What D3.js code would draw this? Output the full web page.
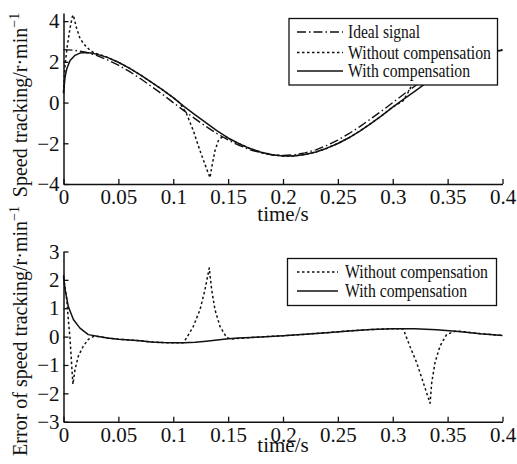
<!DOCTYPE html>
<html>
<head>
<meta charset="utf-8">
<script src="https://cdn.jsdelivr.net/npm/d3@7"></script>
<style>
  html, body { margin: 0; padding: 0; background: #fff; }
  svg { display: block; }
  text { font-family: "Liberation Serif", "Times New Roman", serif; fill: #111; }
</style>
</head>
<body>
<div id="chart"></div>
<script>
// ---------------- data ----------------
const xTicks = [0, 0.05, 0.1, 0.15, 0.2, 0.25, 0.3, 0.35, 0.4];
const xTickLabels = ["0", "0.05", "0.1", "0.15", "0.2", "0.25", "0.3", "0.35", "0.4"];
const topYTicks = [-4, -2, 0, 2, 4];
const topYTickLabels = ["\u22124", "\u22122", "0", "2", "4"];
const botYTicks = [-3, -2, -1, 0, 1, 2, 3];
const botYTickLabels = ["\u22123", "\u22122", "\u22121", "0", "1", "2", "3"];

const topLegend = ["Ideal signal", "Without compensation", "With compensation"];
const botLegend = ["Without compensation", "With compensation"];

// speed tracking, [time s, r/min]
const idealSpeed = [
  [0,2.60],[0.01,2.57],[0.02,2.47],[0.03,2.32],[0.04,2.10],[0.05,1.84],[0.06,1.53],[0.07,1.18],
  [0.08,0.80],[0.09,0.41],[0.10,0.00],[0.11,-0.41],[0.12,-0.80],[0.13,-1.18],[0.14,-1.53],[0.15,-1.84],
  [0.16,-2.10],[0.17,-2.32],[0.18,-2.47],[0.19,-2.57],[0.20,-2.60],[0.21,-2.57],[0.22,-2.47],[0.23,-2.32],
  [0.24,-2.10],[0.25,-1.84],[0.26,-1.53],[0.27,-1.18],[0.28,-0.80],[0.29,-0.41],[0.30,0.00],[0.31,0.41],
  [0.32,0.80],[0.33,1.18],[0.34,1.53],[0.35,1.84],[0.36,2.10],[0.37,2.32],[0.38,2.47],[0.39,2.57],[0.40,2.60]
];
const speedWithComp = [
  [0,0.45],[0.0014,1.25],[0.003,1.66],[0.006,2.07],[0.0105,2.32],[0.015,2.43],[0.02,2.46],[0.025,2.44],
  [0.03,2.38],[0.04,2.22],[0.05,1.98],[0.06,1.69],[0.07,1.36],[0.08,1.00],[0.09,0.64],[0.10,0.24],
  [0.11,-0.2],[0.12,-0.6],[0.13,-1.0],[0.14,-1.39],[0.15,-1.74],[0.16,-2.02],[0.17,-2.26],[0.18,-2.44],
  [0.19,-2.56],[0.20,-2.62],[0.21,-2.62],[0.22,-2.55],[0.23,-2.43],[0.24,-2.24],[0.25,-2.01],[0.26,-1.73],
  [0.27,-1.40],[0.28,-1.03],[0.29,-0.64],[0.30,-0.22],[0.31,0.17],[0.32,0.55],[0.33,0.94],[0.34,1.30],
  [0.35,1.64],[0.36,1.92],[0.37,2.18],[0.38,2.37],[0.39,2.51],[0.40,2.57]
];
const speedWithoutComp = [
  [0,0.5],[0.0014,1.83],[0.0035,2.81],[0.0059,3.64],[0.008,4.21],[0.0089,4.3],[0.012,3.64],[0.0151,3.14],
  [0.0196,2.81],[0.0241,2.57],[0.0287,2.42],[0.035,2.32],[0.04,2.22],[0.05,1.98],[0.06,1.69],[0.07,1.36],
  [0.08,1.00],[0.09,0.64],[0.10,0.24],[0.106,-0.02],[0.1122,-0.56],[0.1183,-1.38],[0.1244,-2.37],
  [0.1305,-3.27],[0.1335,-3.69],[0.135,-3.19],[0.138,-2.37],[0.141,-1.88],[0.1441,-1.71],[0.148,-1.68],
  [0.152,-1.82],[0.16,-2.02],[0.17,-2.26],[0.18,-2.44],[0.19,-2.56],[0.20,-2.62],[0.21,-2.62],[0.22,-2.55],
  [0.23,-2.43],[0.24,-2.24],[0.25,-2.01],[0.26,-1.73],[0.27,-1.40],[0.28,-1.03],[0.29,-0.64],[0.30,-0.22],
  [0.3096,0.1],[0.3156,0.65],[0.3218,1.5],[0.3279,2.6],[0.334,3.6],[0.3355,3.1],[0.3385,2.3],[0.343,1.8],
  [0.349,1.6],[0.357,1.8],[0.36,1.92],[0.37,2.18],[0.38,2.37],[0.39,2.51],[0.40,2.57]
];

// error of speed tracking, [time s, r/min]
const errorWithComp = [
  [0,2.17],[0.0015,1.65],[0.0044,1.06],[0.009,0.6],[0.015,0.3],[0.0226,0.07],[0.032,0.0],[0.04,-0.05],
  [0.05,-0.09],[0.06,-0.12],[0.07,-0.15],[0.08,-0.19],[0.09,-0.21],[0.10,-0.22],[0.11,-0.22],[0.12,-0.2],
  [0.13,-0.16],[0.14,-0.12],[0.15,-0.08],[0.16,-0.05],[0.18,-0.01],[0.20,0.03],[0.22,0.08],[0.24,0.14],
  [0.26,0.2],[0.28,0.25],[0.30,0.28],[0.32,0.28],[0.34,0.24],[0.36,0.18],[0.38,0.1],[0.40,0.04]
];
const errorWithoutComp = [
  [0,2.1],[0.003,1.3],[0.0044,0.6],[0.006,-0.1],[0.0075,-1.04],[0.0086,-1.68],[0.0105,-1.16],[0.0135,-0.69],
  [0.018,-0.34],[0.0226,-0.1],[0.027,0.0],[0.032,0.0],[0.04,-0.05],[0.05,-0.09],[0.06,-0.12],[0.07,-0.15],
  [0.08,-0.19],[0.09,-0.21],[0.10,-0.22],[0.109,-0.22],[0.1123,-0.04],[0.1183,0.36],[0.1244,0.95],
  [0.1289,1.65],[0.1328,2.42],[0.135,1.65],[0.138,0.95],[0.1426,0.36],[0.1487,-0.04],[0.153,-0.09],
  [0.16,-0.06],[0.18,-0.01],[0.20,0.03],[0.22,0.08],[0.24,0.14],[0.26,0.2],[0.28,0.25],[0.30,0.28],
  [0.3096,0.27],[0.3156,-0.34],[0.3218,-0.92],[0.3279,-1.63],[0.334,-2.35],[0.3355,-1.63],[0.3385,-0.92],
  [0.343,-0.34],[0.349,0.07],[0.3567,0.19],[0.36,0.19],[0.38,0.1],[0.40,0.04]
];

// ---------------- drawing ----------------
const W = 517, H = 464;
const svg = d3.select("#chart").append("svg").attr("width", W).attr("height", H);
svg.append("rect").attr("width", W).attr("height", H).attr("fill", "#fff");

const INK = "#111";
const styles = {
  ideal:   { dash: "9,3,1.5,3", width: 1.4 },
  without: { dash: "2.5,2.5",   width: 1.5 },
  with:    { dash: null,        width: 1.5 }
};

const x = d3.scaleLinear().domain([0, 0.4]).range([63.5, 502.5]);

function panel(cfg) {
  const y = d3.scaleLinear().domain(cfg.yDomain).range(cfg.yRange);
  const g = svg.append("g");
  const line = d3.line().x(d => x(d[0])).y(d => y(d[1]));

  cfg.series.forEach(s => {
    const st = styles[s.style];
    g.append("path").datum(s.data)
      .attr("d", line)
      .attr("fill", "none")
      .attr("stroke", INK)
      .attr("stroke-width", st.width)
      .attr("stroke-linejoin", "round")
      .attr("stroke-dasharray", st.dash);
  });

  const xAxis = d3.axisBottom(x)
    .tickValues(xTicks)
    .tickFormat((d, i) => xTickLabels[i])
    .tickSizeInner(-5).tickSizeOuter(0).tickPadding(5);
  const gx = g.append("g").attr("transform", `translate(0,${cfg.yRange[0]})`).call(xAxis);

  const yAxis = d3.axisLeft(y)
    .tickValues(cfg.yTicks)
    .tickFormat((d, i) => cfg.yTickLabels[i])
    .tickSizeInner(-5).tickSizeOuter(0).tickPadding(4);
  const gy = g.append("g").attr("transform", `translate(${x(0)},0)`).call(yAxis);

  [gx, gy].forEach(a => {
    a.select(".domain").attr("stroke", INK).attr("stroke-width", 1.5);
    a.selectAll(".tick line").attr("stroke", INK).attr("stroke-width", 1.3);
    a.selectAll(".tick text").attr("font-size", 21).attr("fill", INK)
      .style("font-family", '"Liberation Serif", "Times New Roman", serif');
  });

  // x label
  g.append("text").attr("x", x(0.2)).attr("y", cfg.xLabelY)
    .attr("text-anchor", "middle").attr("font-size", 21).text("time/s");

  // y label (rotated)
  const yl = g.append("text")
    .attr("transform", `translate(27,${cfg.yLabelCenter}) rotate(-90)`)
    .attr("text-anchor", "middle").attr("font-size", 20);
  yl.append("tspan").text(cfg.yLabel);
  yl.append("tspan").attr("font-size", 14).attr("dy", -8).text("\u22121");

  // legend
  const L = cfg.legend;
  g.append("rect").attr("x", L.x).attr("y", L.y).attr("width", L.w).attr("height", L.h)
    .attr("fill", "#fff").attr("stroke", INK).attr("stroke-width", 1.3);
  L.items.forEach((it, i) => {
    const st = styles[it.style];
    g.append("line").attr("x1", L.lineX1).attr("x2", L.lineX2)
      .attr("y1", L.rowY[i]).attr("y2", L.rowY[i])
      .attr("stroke", INK).attr("stroke-width", st.width).attr("stroke-dasharray", st.dash);
    g.append("text").attr("x", L.textX).attr("y", L.rowY[i] + 6)
      .attr("font-size", 18)
      .attr("textLength", it.len).attr("lengthAdjust", "spacingAndGlyphs")
      .text(it.label);
  });
}

panel({
  yDomain: [-4, 4.4], yRange: [184, 13],
  yTicks: topYTicks, yTickLabels: topYTickLabels,
  series: [
    { data: idealSpeed, style: "ideal" },
    { data: speedWithoutComp, style: "without" },
    { data: speedWithComp, style: "with" }
  ],
  xLabelY: 221,
  yLabel: "Speed tracking/r\u00b7min",
  yLabelCenter: 105,
  legend: {
    x: 289, y: 18.5, w: 208.5, h: 66.5,
    lineX1: 297, lineX2: 343, textX: 348,
    rowY: [32, 52.5, 71],
    items: [
      { label: topLegend[0], style: "ideal", len: 72 },
      { label: topLegend[1], style: "without", len: 143 },
      { label: topLegend[2], style: "with", len: 122 }
    ]
  }
});

panel({
  yDomain: [-3, 3], yRange: [421.7, 251.5],
  yTicks: botYTicks, yTickLabels: botYTickLabels,
  series: [
    { data: errorWithoutComp, style: "without" },
    { data: errorWithComp, style: "with" }
  ],
  xLabelY: 452,
  yLabel: "Error of speed tracking/r\u00b7min",
  yLabelCenter: 331,
  legend: {
    x: 287.5, y: 258.5, w: 209, h: 47,
    lineX1: 297, lineX2: 338, textX: 345,
    rowY: [272, 291],
    items: [
      { label: botLegend[0], style: "without", len: 143 },
      { label: botLegend[1], style: "with", len: 122 }
    ]
  }
});
</script>
</body>
</html>
